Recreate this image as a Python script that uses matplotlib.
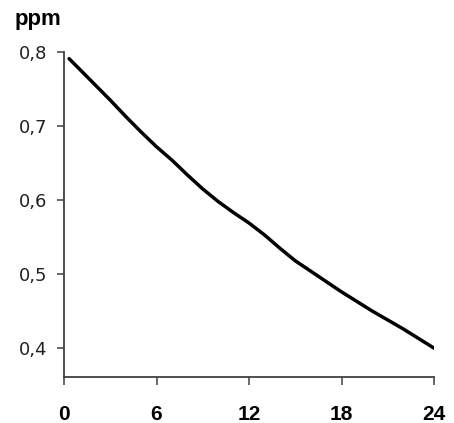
import matplotlib
matplotlib.use("Agg")
import matplotlib.pyplot as plt

# Concentration over time (hours)
hours = [0.33, 1, 2, 3, 4, 5, 6, 7, 8, 9, 10, 11, 12, 13, 14, 15, 16, 17, 18,
         19, 20, 21, 22, 23, 24]
ppm = [0.791, 0.777, 0.756, 0.735, 0.713, 0.692, 0.672, 0.654, 0.634, 0.615,
       0.598, 0.583, 0.569, 0.553, 0.535, 0.518, 0.504, 0.490, 0.476, 0.463,
       0.450, 0.438, 0.426, 0.413, 0.400]

x_ticks = [0, 6, 12, 18, 24]
y_ticks = [0.4, 0.5, 0.6, 0.7, 0.8]
y_labels = ["0,4", "0,5", "0,6", "0,7", "0,8"]

W, H = 454, 423
fig = plt.figure(figsize=(W / 100, H / 100), dpi=100)
ax = fig.add_axes([64 / W, 46 / H, 370 / W, 325 / H])

ax.plot(hours, ppm, color="black", lw=2.5, solid_capstyle="round")

ax.set_xlim(0, 24)
ax.set_ylim(0.361, 0.8)

spine_color = "#404040"
for side in ("top", "right"):
    ax.spines[side].set_visible(False)
for side in ("left", "bottom"):
    ax.spines[side].set_color(spine_color)
    ax.spines[side].set_linewidth(1.3)

ax.set_xticks(x_ticks)
ax.set_xticklabels([str(t) for t in x_ticks], fontfamily="Liberation Sans",
                   fontweight="bold", fontsize=15)
ax.set_yticks(y_ticks)
ax.set_yticklabels(y_labels, fontfamily="DejaVu Sans", fontsize=13,
                   color="#222222")

ax.tick_params(axis="x", direction="out", length=5.5, width=1.1,
               color=spine_color, pad=15)
ax.tick_params(axis="y", direction="out", length=5, width=1.1,
               color=spine_color, pad=7)

fig.text(15 / W, 1 - 25 / H, "ppm", fontfamily="Liberation Sans",
         fontweight="bold", fontsize=16, va="baseline", ha="left")

fig.savefig("out.png", dpi=100, facecolor="white")
